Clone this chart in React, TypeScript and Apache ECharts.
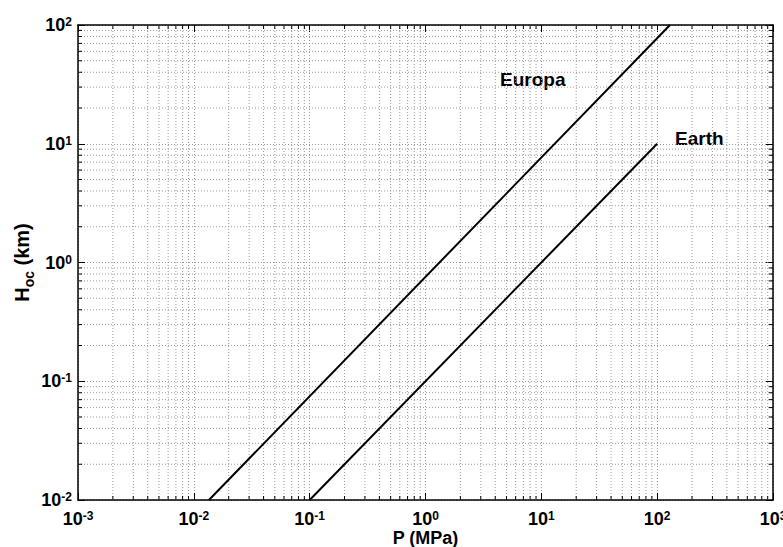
import React, { useEffect, useRef } from "react";
import * as echarts from "echarts";

// Data (P in MPa, H_oc in km)
const europaP = [0.0135, 129];
const europaH = [0.01, 100];
const earthP = [0.1, 100];
const earthH = [0.01, 10];

// axis ranges (log10 exponents)
const xExpMin = -3;
const xExpMax = 3;
const yExpMin = -2;
const yExpMax = 2;
const xDecades = [-3, -2, -1, 0, 1, 2];
const yDecades = [-2, -1, 0, 1];
const minorMultipliers = [2, 3, 4, 5, 6, 7, 8, 9];

const FONT = "'Liberation Sans', Arial, Helvetica, sans-serif";

const lg = (v: number) => Math.log10(v);

export default function App() {
  const ref = useRef<HTMLDivElement>(null);
  useEffect(() => {
    if (!ref.current) return;
    const chart = echarts.init(ref.current, null, { renderer: "svg" });

    const xMinor: number[][] = [];
    xDecades.forEach((d) => minorMultipliers.forEach((m) => xMinor.push([lg(m * Math.pow(10, d)), 0])));
    const yMinor: number[][] = [];
    yDecades.forEach((d) => minorMultipliers.forEach((m) => yMinor.push([0, lg(m * Math.pow(10, d))])));

    const gridStyle = { stroke: "#9a9a9a", lineWidth: 1, lineDash: [1, 2] };
    const tickStyle = { stroke: "#000", lineWidth: 1 };
    const minorLen = 4;

    const richLabel = {
      b: { fontSize: 18, fontWeight: "bold", fontFamily: FONT, color: "#000", lineHeight: 18, verticalAlign: "bottom" },
      e: { fontSize: 12, fontWeight: "bold", fontFamily: FONT, color: "#000", lineHeight: 12, verticalAlign: "top", padding: [0, 0, 6, 0] },
    };
    const fmt = (v: number) => "{b|10}{e|" + Math.round(v) + "}";

    const axisCommon = {
      type: "value",
      axisLine: { show: true, onZero: false, lineStyle: { color: "#000", width: 1.5 } },
      axisTick: { show: true, inside: true, length: 7, lineStyle: { color: "#000", width: 1 } },
    };

    chart.setOption({
      animation: false,
      backgroundColor: "#fff",
      grid: { left: 78, right: 10, top: 25, bottom: 47, containLabel: false, outerBoundsMode: "none" },
      xAxis: [
        {
          ...axisCommon,
          min: xExpMin,
          max: xExpMax,
          interval: 1,
          position: "bottom",
          name: "P (MPa)",
          nameLocation: "middle",
          nameGap: 30,
          nameMoveOverlap: false,
          nameTextStyle: { fontSize: 18, lineHeight: 16, fontWeight: "bold", fontFamily: FONT, color: "#000" },
          axisLabel: { formatter: fmt, rich: richLabel, margin: 10 },
          splitLine: { show: true, lineStyle: { color: "#9a9a9a", width: 1, type: [1, 2] } },
        },
        {
          ...axisCommon,
          min: xExpMin,
          max: xExpMax,
          interval: 1,
          position: "top",
          axisLabel: { show: false },
          splitLine: { show: false },
        },
      ],
      yAxis: [
        {
          ...axisCommon,
          min: yExpMin,
          max: yExpMax,
          interval: 1,
          position: "left",
          name: "{h|H}{s|oc}{h| (km)}",
          nameLocation: "middle",
          nameGap: 42,
          nameMoveOverlap: false,
          nameTextStyle: {
            rich: {
              h: { fontSize: 20, fontWeight: "bold", fontFamily: FONT, color: "#000", lineHeight: 24, verticalAlign: "top" },
              s: { fontSize: 14, fontWeight: "bold", fontFamily: FONT, color: "#000", lineHeight: 24, verticalAlign: "bottom", padding: [7, 0, 0, 0] },
            },
          },
          axisLabel: { formatter: fmt, rich: richLabel, margin: 6 },
          splitLine: { show: true, lineStyle: { color: "#9a9a9a", width: 1, type: [1, 2] } },
        },
        {
          ...axisCommon,
          min: yExpMin,
          max: yExpMax,
          interval: 1,
          position: "right",
          axisLabel: { show: false },
          splitLine: { show: false },
        },
      ],
      series: [
        {
          type: "custom",
          silent: true,
          z: 1,
          data: xMinor,
          renderItem: (params: any, api: any) => {
            const cs = params.coordSys;
            const x = api.coord([api.value(0), 0])[0];
            const b = cs.y + cs.height;
            return {
              type: "group",
              children: [
                { type: "line", shape: { x1: x, y1: cs.y, x2: x, y2: b }, style: gridStyle },
                { type: "line", shape: { x1: x, y1: b, x2: x, y2: b - minorLen }, style: tickStyle },
                { type: "line", shape: { x1: x, y1: cs.y, x2: x, y2: cs.y + minorLen }, style: tickStyle },
              ],
            };
          },
        },
        {
          type: "custom",
          silent: true,
          z: 1,
          data: yMinor,
          renderItem: (params: any, api: any) => {
            const cs = params.coordSys;
            const y = api.coord([0, api.value(1)])[1];
            const r = cs.x + cs.width;
            return {
              type: "group",
              children: [
                { type: "line", shape: { x1: cs.x, y1: y, x2: r, y2: y }, style: gridStyle },
                { type: "line", shape: { x1: cs.x, y1: y, x2: cs.x + minorLen, y2: y }, style: tickStyle },
                { type: "line", shape: { x1: r, y1: y, x2: r - minorLen, y2: y }, style: tickStyle },
              ],
            };
          },
        },
        {
          type: "line",
          name: "Europa",
          z: 5,
          symbol: "none",
          lineStyle: { color: "#000", width: 2 },
          data: europaP.map((p, i) => [lg(p), lg(europaH[i])]),
        },
        {
          type: "line",
          name: "Earth",
          z: 5,
          symbol: "none",
          lineStyle: { color: "#000", width: 2 },
          data: earthP.map((p, i) => [lg(p), lg(earthH[i])]),
        },
      ],
      graphic: [
        {
          type: "text",
          left: 500,
          top: 70,
          style: { text: "Europa", fontSize: 19, fontWeight: "bold", fontFamily: FONT, fill: "#000" },
        },
        {
          type: "text",
          left: 675,
          top: 129,
          style: { text: "Earth", fontSize: 19, fontWeight: "bold", fontFamily: FONT, fill: "#000" },
        },
      ],
    });
    return () => chart.dispose();
  }, []);
  return (
    <div
      ref={ref}
      style={{ position: "fixed", left: 0, top: 0, width: 783, height: 547, background: "#fff" }}
    />
  );
}
